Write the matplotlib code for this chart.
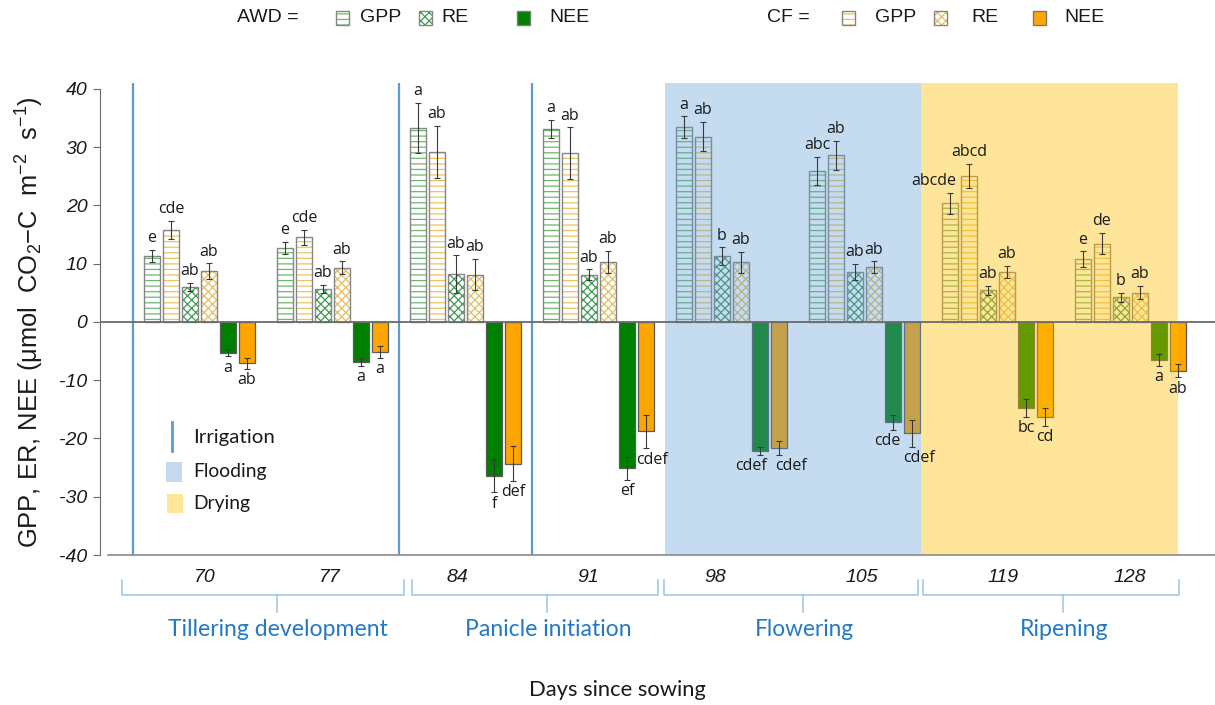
import matplotlib
matplotlib.use('Agg')
import matplotlib.pyplot as plt
from matplotlib.patches import Rectangle
from matplotlib.lines import Line2D
import numpy as np

# ---------------- data ----------------
days = [70, 77, 84, 91, 98, 105, 119, 128]
stages = ['Tillering development', 'Panicle initiation', 'Flowering', 'Ripening']
y_ticks = [-40, -30, -20, -10, 0, 10, 20, 30, 40]
y_ticklabels = ['-40', '-30', '-20', '-10', '0', '10', '20', '30', '40']

gpp_awd = [11.3, 12.65, 33.3, 33.1, 33.4, 25.9, 20.4, 10.75]
gpp_awd_err = [1.1, 1.05, 4.3, 1.6, 1.9, 2.4, 1.8, 1.35]
gpp_cf = [15.8, 14.5, 29.2, 29.0, 31.8, 28.6, 25.0, 13.45]
gpp_cf_err = [1.5, 1.3, 4.5, 4.4, 2.5, 2.5, 2.1, 1.8]
re_awd = [6.0, 5.67, 8.2, 8.1, 11.3, 8.6, 5.4, 4.23]
re_awd_err = [0.7, 0.7, 3.2, 0.9, 1.5, 1.4, 0.75, 0.75]
re_cf = [8.75, 9.27, 8.1, 10.3, 10.25, 9.4, 8.6, 5.0]
re_cf_err = [1.3, 1.1, 2.7, 1.9, 1.8, 1.0, 1.0, 1.15]
nee_awd = [-5.3, -6.9, -26.4, -25.1, -22.1, -17.2, -14.8, -6.5]
nee_awd_err = [0.6, 0.65, 2.8, 2.0, 0.7, 1.3, 1.5, 1.0]
nee_cf = [-7.1, -5.15, -24.3, -18.8, -21.6, -19.1, -16.3, -8.4]
nee_cf_err = [0.9, 1.0, 3.0, 2.9, 1.2, 2.3, 1.5, 1.1]

lab_gpp_awd = ['e', 'e', 'a', 'a', 'a', 'abc', 'abcde', 'e']
lab_gpp_cf = ['cde', 'cde', 'ab', 'ab', 'ab', 'ab', 'abcd', 'de']
lab_re_awd = ['ab', 'ab', 'ab', 'ab', 'b', 'ab', 'ab', 'b']
lab_re_cf = ['ab', 'ab', 'ab', 'ab', 'ab', 'ab', 'ab', 'ab']
lab_nee_awd = ['a', 'a', 'f', 'ef', 'cdef', 'cde', 'bc', 'a']
lab_nee_cf = ['ab', 'a', 'def', 'cdef', 'cdef', 'cdef', 'cd', 'ab']

irrigation_x = [-1, 13, 20]          # in bar-slot units
flooding_span = (27, 40.5)
drying_span = (40.5, 54)

# ---------------- layout ----------------
W, H = 1215, 705
plt.rcParams['mathtext.fontset'] = 'custom'
plt.rcParams['mathtext.rm'] = 'Liberation Sans'
plt.rcParams['mathtext.it'] = 'Liberation Sans:italic'
plt.rcParams['hatch.linewidth'] = 0.9
plt.rcParams['axes.unicode_minus'] = False

fig = plt.figure(figsize=(W / 100, H / 100), dpi=100)
ax = fig.add_axes([100 / W, 1 - 555 / H, (W - 100) / W, (555 - 83) / H])


def fx(px):
    return px / W


def fy(py):
    return 1 - py / H


GSTEP = 7
BW = 0.84
hatch_green = '#6cb86c'
hatch_gold = '#eec35a'
hatch_dgreen = '#3d9a52'
hatch_dgold = '#e3bf62'
edge_grey = '#858585'

series = [
    (gpp_awd, gpp_awd_err, lab_gpp_awd, dict(kind='hatch', hatch='---', hc=hatch_green)),
    (gpp_cf, gpp_cf_err, lab_gpp_cf, dict(kind='hatch', hatch='---', hc=hatch_gold)),
    (re_awd, re_awd_err, lab_re_awd, dict(kind='hatch', hatch='xxxx', hc=hatch_dgreen)),
    (re_cf, re_cf_err, lab_re_cf, dict(kind='hatch', hatch='xxxx', hc=hatch_dgold)),
    (nee_awd, nee_awd_err, lab_nee_awd, dict(kind='solid', fc='#008000')),
    (nee_cf, nee_cf_err, lab_nee_cf, dict(kind='solid', fc='#FFA500')),
]
label_dx = {(4, 4): -0.45, (5, 4): 0.65, (4, 5): -0.3, (5, 5): 0.35,
            (0, 6): -0.85, (5, 3): 0.3}

g = np.arange(len(days))
for j, (vals, errs, labs, st) in enumerate(series):
    x = g * GSTEP + j
    if st['kind'] == 'hatch':
        ax.bar(x, vals, width=BW, color='white', edgecolor=st['hc'],
               hatch=st['hatch'], linewidth=0, zorder=2)
        ax.bar(x, vals, width=BW, fill=False, edgecolor=edge_grey,
               linewidth=1.0, zorder=2.1)
    else:
        ax.bar(x, vals, width=BW, color=st['fc'], edgecolor='#5a5a5a',
               linewidth=0.9, zorder=2)
    ax.errorbar(x, vals, yerr=errs, fmt='none', ecolor='#3a3a3a',
                elinewidth=0.8, capsize=2.5, capthick=0.8, zorder=4)
    for i in range(len(days)):
        v, e = vals[i], errs[i]
        xx = x[i] + label_dx.get((j, i), 0)
        if v >= 0:
            ax.annotate(labs[i], (xx, v + e), xytext=(0, 5.5),
                        textcoords='offset points', ha='center', va='baseline',
                        fontsize=11.5, family='Open Sans', color='#1a1a1a', zorder=6)
        else:
            ax.annotate(labs[i], (xx, v - e), xytext=(0, -2.5),
                        textcoords='offset points', ha='center', va='top',
                        fontsize=11.5, family='Open Sans', color='#1a1a1a', zorder=6)

# shading overlays (semi-transparent, above the bars)
ax.axvspan(*flooding_span, color='#5B9BD5', alpha=0.354, lw=0, zorder=3)
ax.axvspan(*drying_span, color='#FFC000', alpha=0.4, lw=0, zorder=3)

for xi in irrigation_x:
    ax.axvline(xi, color='#5B9BD5', lw=1.6, zorder=1)

xl = (-2.737, 55.95)
ax.set_xlim(*xl)
ax.set_ylim(-40, 41)
ax.axhline(0, color='#6a6a6a', lw=1.3, zorder=5)
ax.plot([-2.3, xl[1]], [-40, -40], color='#8a8a8a', lw=1.2, zorder=5, clip_on=False)

for s in ['top', 'right', 'bottom']:
    ax.spines[s].set_visible(False)
ax.spines['left'].set_bounds(-40, 40)
ax.spines['left'].set_color('#6a6a6a')
ax.set_xticks([])
ax.set_yticks(y_ticks)
ax.set_yticklabels(y_ticklabels, fontstyle='italic', family='Liberation Sans',
                   fontsize=14, color='#1a1a1a')
ax.tick_params(axis='y', length=5, color='#6a6a6a', pad=4)
ax.patch.set_alpha(0)

fit_items = []

# y label
yl = fig.text(fx(30), fy(322), r'GPP, ER, NEE (μmol  CO$_2$$-$C  m$^{-2}$  s$^{-1}$)',
              rotation=90, ha='center', va='center', fontsize=14,
              family='Liberation Sans', color='#1a1a1a')
fit_items.append((yl, 453, 'h'))


def fline(xs, ys, **kw):
    fig.add_artist(Line2D([fx(v) for v in xs], [fy(v) for v in ys],
                          transform=fig.transFigure, **kw))


# day labels
day_px = [205, 330, 457, 588, 715, 862, 1003, 1130]
for d, px in zip(days, day_px):
    fig.text(fx(px), fy(577), str(d), ha='center', va='center', fontsize=14,
             style='italic', family='Liberation Sans', color='#1a1a1a')

# stage brackets
bracket_px = [(122, 404), (412, 658), (664, 918), (923, 1179)]
tick_px = [277, 547, 803, 1063]
stage_w = [220, 167, 99, 89]
bcol = '#9DC3E6'
for (a, b), tp, name, sw in zip(bracket_px, tick_px, stages, stage_w):
    fline([a, a, b, b], [580, 595, 595, 580], color=bcol, lw=1.1)
    fline([tp, tp], [595, 612], color=bcol, lw=1.1)
    t = fig.text(fx(tp + 1), fy(630), name, ha='center', va='center',
                 fontsize=16, family='Lato', color='#2479C6')
    fit_items.append((t, sw, 'w'))

t = fig.text(fx(617), fy(690), 'Days since sowing', ha='center', va='center',
             fontsize=12.5, family='Lato', color='#1a1a1a')
fit_items.append((t, 178, 'w'))

# in-plot legend
fline([172, 172], [422, 451], color='#5B9BD5', lw=2)
fig.add_artist(Rectangle((fx(166), fy(482)), 16 / W, 20 / H, transform=fig.transFigure,
                         facecolor='#C5DAEF', lw=0))
fig.add_artist(Rectangle((fx(167), fy(513)), 16 / W, 19 / H, transform=fig.transFigure,
                         facecolor='#FFE699', lw=0))
for txt, yy, ww in [('Irrigation', 437, 82), ('Flooding', 471, 74), ('Drying', 503, 57)]:
    t = fig.text(fx(193), fy(yy), txt, ha='left', va='center', fontsize=14,
                 family='Lato', color='#1a1a1a')
    fit_items.append((t, ww, 'w'))


# top legend
def leg_patch(x, st):
    if st['kind'] == 'hatch':
        fig.add_artist(Rectangle((fx(x), fy(25)), 13 / W, 14 / H, transform=fig.transFigure,
                                 facecolor='white', edgecolor=st['hc'], hatch=st['hatch'], lw=0))
        fig.add_artist(Rectangle((fx(x), fy(25)), 13 / W, 14 / H, transform=fig.transFigure,
                                 fill=False, edgecolor=edge_grey, lw=1))
    else:
        fig.add_artist(Rectangle((fx(x), fy(25)), 13 / W, 14 / H, transform=fig.transFigure,
                                 facecolor=st['fc'], edgecolor='#7a7a7a', lw=1))


top_texts = [('AWD =', 237), ('GPP', 360), ('RE', 441), ('NEE', 549),
             ('CF =', 767), ('GPP', 875), ('RE', 971), ('NEE', 1064)]
for txt, x in top_texts:
    fig.text(fx(x), fy(18), txt, ha='left', va='center', fontsize=14,
             family='Liberation Sans', color='#1a1a1a')
for x, k in zip([336, 419, 517, 842, 934, 1033], [0, 2, 4, 1, 3, 5]):
    leg_patch(x, series[k][3])

# fit text sizes to measured widths
fig.canvas.draw()
r = fig.canvas.get_renderer()
for t, target, axis in fit_items:
    bb = t.get_window_extent(r)
    cur = bb.width if axis == 'w' else bb.height
    if cur > 0:
        t.set_fontsize(t.get_fontsize() * target / cur)

fig.savefig('out.png', dpi=100)
